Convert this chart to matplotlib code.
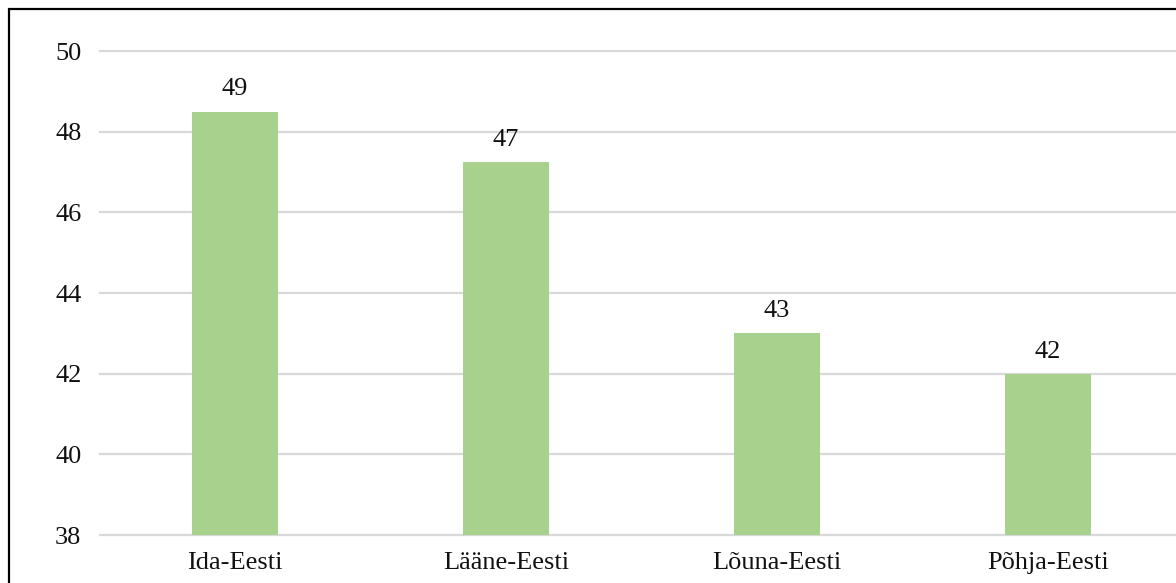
import matplotlib.pyplot as plt
from matplotlib.patches import Rectangle

# data
regions = ["Ida-Eesti", "Lääne-Eesti", "Lõuna-Eesti", "Põhja-Eesti"]
values = [48.5, 47.25, 43.0, 42.0]
labels = ["49", "47", "43", "42"]
y_ticks = [38, 40, 42, 44, 46, 48, 50]

W, H = 1176, 583
plt.rcParams["font.family"] = ["Liberation Serif", "DejaVu Serif"]

fig = plt.figure(figsize=(W / 100, H / 100), dpi=100)

# plot area runs a bit past the right edge of the picture (cropped chart)
left, right, top, bottom = 99.5, 1183.5, 51, 535
ax = fig.add_axes([left / W, (H - bottom) / H, (right - left) / W, (bottom - top) / H])

x = range(len(regions))
ax.bar(x, [v - 38 for v in values], bottom=38, width=0.314, color="#A9D18E", zorder=3)

for i, (v, lab) in enumerate(zip(values, labels)):
    ax.annotate(lab, (i, v), xytext=(0, 8), textcoords="offset points",
                ha="center", va="bottom", fontsize=19, color="#111111")

ax.set_xlim(-0.5, len(regions) - 0.5)
ax.set_ylim(38, 50)
ax.set_yticks(y_ticks)
ax.set_xticks(list(x))
ax.set_xticklabels(regions)
ax.tick_params(axis="both", length=0, labelsize=19, colors="#111111")
ax.tick_params(axis="y", pad=13)
ax.tick_params(axis="x", pad=12)
ax.grid(True, axis="y", color="#D9D9D9", linewidth=1.6, zorder=0)
for gl in ax.get_ygridlines():
    gl.set_clip_on(False)
for s in ax.spines.values():
    s.set_visible(False)

# outer chart border, cut off on the right and bottom
fig.patches.append(Rectangle((8.5 / W, -0.1), 1.2, (H - 8.5) / H + 0.1,
                             transform=fig.transFigure, fill=False,
                             edgecolor="black", linewidth=1.6))

fig.savefig("out.png", dpi=100)
